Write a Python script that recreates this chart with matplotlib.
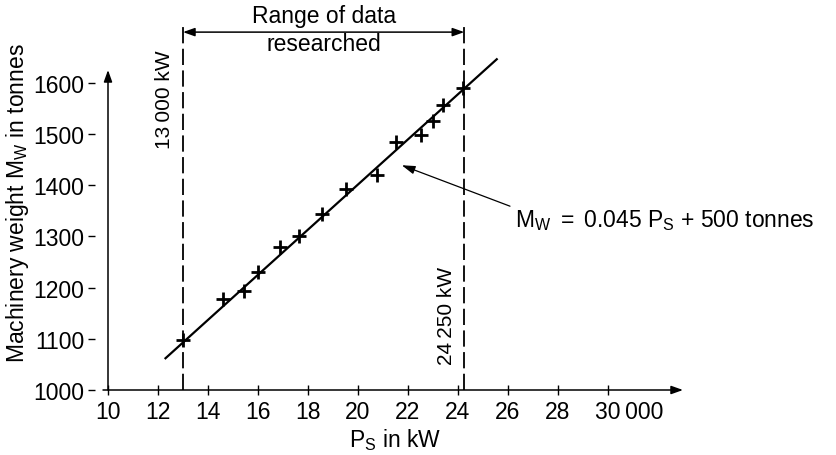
import numpy as np
import matplotlib
matplotlib.use('Agg')
from matplotlib import pyplot as plt
from matplotlib.transforms import ScaledTranslation

plt.rcParams['font.family'] = ['Liberation Sans', 'DejaVu Sans']
plt.rcParams['mathtext.fontset'] = 'custom'
plt.rcParams['mathtext.rm'] = 'Liberation Sans'
plt.rcParams['mathtext.it'] = 'Liberation Sans:italic'

# measured points (P_S in thousands of kW, M_W in tonnes)
ps = [13.0, 14.6, 15.45, 16.0, 16.9, 17.65, 18.55, 19.5, 20.75, 21.5, 22.5, 23.0, 23.4, 24.2]
mw = [1098, 1178, 1194, 1230, 1279, 1300, 1344, 1393, 1420, 1485, 1498, 1526, 1556, 1589]

# drawn fit line ends
fit_x = [12.3, 25.55]
fit_y = [1062, 1646]

range_lo = 13.0
range_hi = 24.25

xticks = [10, 12, 14, 16, 18, 20, 22, 24, 26, 28, 30]
xlabels = ['10', '12', '14', '16', '18', '20', '22', '24', '26', '28', '30\u2009000']
yticks = [1000, 1100, 1200, 1300, 1400, 1500, 1600]

fs = 16.5
fs_small = 15
px_x = 25.0    # pixels per kW-thousand
px_y = 0.512   # pixels per tonne

fig = plt.figure(figsize=(8.37, 4.56), dpi=100)
x0, x1 = 9.5, 33.5
y0 = 1000
left_px = 108 - (10 - x0) * px_x
w_px = (x1 - x0) * px_x
ax = fig.add_axes([left_px / 837, 65 / 456, w_px / 837, 391 / 456])
ax.set_xlim(x0, x1)
ax.set_ylim(y0, y0 + 391 / px_y)

for s in ax.spines.values():
    s.set_visible(False)

# axis lines with arrows
ax.annotate('', xy=(33.0, 1000), xytext=(9.8, 1000),
            arrowprops=dict(arrowstyle='-|>,head_length=0.7,head_width=0.25', color='black', lw=1.1,
                            shrinkA=0, shrinkB=0), annotation_clip=False)
ax.annotate('', xy=(10, 1625), xytext=(10, 1000),
            arrowprops=dict(arrowstyle='-|>,head_length=0.7,head_width=0.25', color='black', lw=1.1,
                            shrinkA=0, shrinkB=0), annotation_clip=False)

ax.set_xticks(xticks)
ax.set_xticklabels(xlabels, fontsize=fs)
ax.set_yticks(yticks)
ax.set_yticklabels([str(v) for v in yticks], fontsize=fs)
ax.tick_params(axis='x', direction='inout', length=7, width=1, pad=4)
ax.tick_params(axis='y', direction='out', length=5, width=1, pad=3)

# "30 000": keep the "30" centred on its tick
last = ax.xaxis.get_major_ticks()[-1].label1
last.set_horizontalalignment('left')
last.set_transform(last.get_transform() + ScaledTranslation(-0.13, 0, fig.dpi_scale_trans))

ax.set_xlabel(r'P$_\mathrm{S}$ in kW', fontsize=fs, labelpad=2)
ax.set_ylabel(r'Machinery weight M$_\mathrm{W}$ in tonnes', fontsize=fs)
ax.yaxis.set_label_coords(-0.108, 0.48)

# range lines
for xv in [range_lo, range_hi]:
    ax.plot([xv, xv], [1000, 1711], color='black', lw=1.3, ls=(0, (9, 3)), clip_on=False)

ax.annotate('', xy=(range_hi, 1699), xytext=(range_lo, 1699),
            arrowprops=dict(arrowstyle='<|-|>,head_length=0.7,head_width=0.25', color='black', lw=1.1,
                            shrinkA=0, shrinkB=0), annotation_clip=False)
mid = (range_lo + range_hi) / 2
ax.text(mid, 1732, 'Range of data', ha='center', va='center', fontsize=fs)
ax.text(mid, 1676, 'researched', ha='center', va='center', fontsize=fs)

ax.text(12.28, 1568, '13\u2009000 kW', rotation=90, ha='center', va='center', fontsize=fs_small)
ax.text(23.56, 1146, '24\u2009250 kW', rotation=90, ha='center', va='center', fontsize=fs_small)

# fit line and points
ax.plot(fit_x, fit_y, color='black', lw=1.6, clip_on=False)
ax.plot(ps, mw, ls='none', marker='+', ms=10, mew=2, color='black')

ax.annotate('', xy=(21.75, 1439), xytext=(26.08, 1359),
            arrowprops=dict(arrowstyle='-|>,head_length=0.8,head_width=0.25', color='black', lw=0.9,
                            shrinkA=0, shrinkB=0))
ax.text(26.28, 1332, r'M$_\mathrm{W}$ $=$ 0.045 P$_\mathrm{S}$ $+$ 500 tonnes', ha='left', va='center', fontsize=fs)

fig.savefig('out.png', dpi=100)
